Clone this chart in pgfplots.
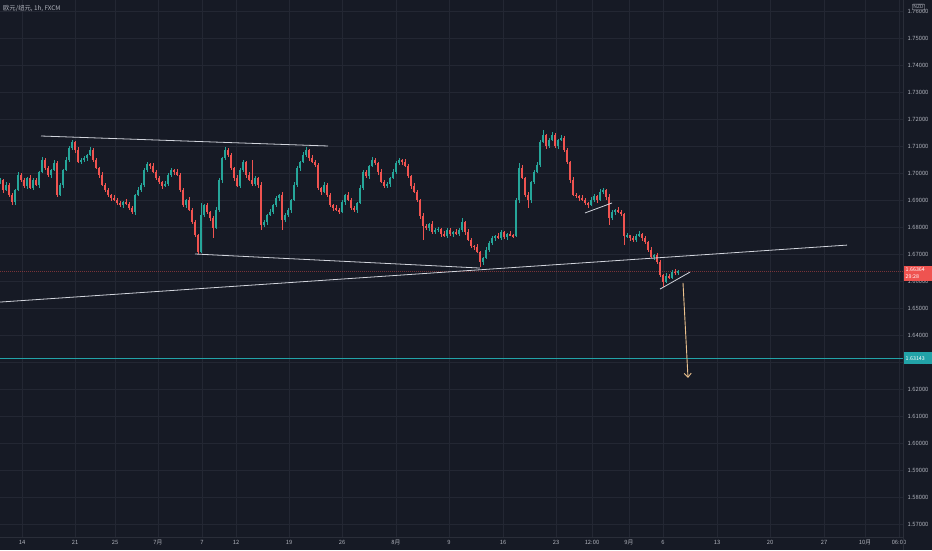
\documentclass[border=0pt]{standalone}
\usepackage{fontspec}
\setmainfont{Noto Sans CJK SC}
\usepackage{pgfplots}
\usepackage{pgfplotstable}
\pgfplotsset{compat=1.18}
\usetikzlibrary{arrows.meta,calc}
\definecolor{bg}{HTML}{161A25}
\definecolor{gridc}{HTML}{232733}
\definecolor{sepc}{HTML}{2A2E39}
\definecolor{upc}{HTML}{26A69A}
\definecolor{dnc}{HTML}{EF5350}
\definecolor{txt}{HTML}{B2B5BE}
\definecolor{tealline}{HTML}{22A3A8}
\definecolor{drw}{HTML}{D1D4DC}
\definecolor{arr}{HTML}{ECC28E}
\pgfplotstableread{
x o h l c
0 1.6965 1.6982 1.6959 1.6974
3 1.6974 1.6978 1.6927 1.6937
6 1.6937 1.6967 1.6932 1.6956
9 1.6956 1.6962 1.6911 1.6919
12 1.6919 1.6927 1.6882 1.6893
15 1.6893 1.6941 1.6883 1.6937
18 1.6937 1.7004 1.6932 1.6993
21 1.6993 1.6999 1.6966 1.6974
24 1.6974 1.6982 1.6946 1.6952
27 1.6952 1.6986 1.6942 1.6982
30 1.6982 1.6993 1.6939 1.6944
33 1.6944 1.6980 1.6936 1.6974
36 1.6974 1.6982 1.6950 1.6956
39 1.6956 1.7008 1.6946 1.7004
42 1.7004 1.7059 1.6999 1.7048
45 1.7048 1.7054 1.7011 1.7019
48 1.7019 1.7027 1.6987 1.6993
51 1.6993 1.7015 1.6983 1.7011
54 1.7011 1.7048 1.7006 1.7037
57 1.7037 1.7043 1.6911 1.6919
60 1.6919 1.6964 1.6913 1.6956
63 1.6956 1.7015 1.6946 1.7011
66 1.7011 1.7059 1.7006 1.7048
69 1.7048 1.7099 1.7040 1.7093
72 1.7093 1.7123 1.7087 1.7115
75 1.7115 1.7119 1.7075 1.7085
78 1.7085 1.7096 1.7036 1.7041
81 1.7041 1.7054 1.7033 1.7048
84 1.7048 1.7064 1.7042 1.7056
87 1.7056 1.7071 1.7046 1.7067
90 1.7067 1.7096 1.7062 1.7085
93 1.7085 1.7091 1.7040 1.7048
96 1.7048 1.7056 1.7013 1.7019
99 1.7019 1.7023 1.6983 1.6993
102 1.6993 1.7004 1.6951 1.6956
105 1.6956 1.6962 1.6929 1.6937
108 1.6937 1.6945 1.6913 1.6919
111 1.6919 1.6923 1.6897 1.6907
114 1.6907 1.6918 1.6895 1.6900
117 1.6900 1.6906 1.6881 1.6889
120 1.6889 1.6897 1.6875 1.6881
123 1.6881 1.6897 1.6871 1.6893
126 1.6893 1.6904 1.6880 1.6885
129 1.6885 1.6891 1.6862 1.6870
132 1.6870 1.6878 1.6848 1.6856
135 1.6856 1.6923 1.6846 1.6919
138 1.6919 1.6948 1.6914 1.6937
141 1.6937 1.6962 1.6929 1.6956
144 1.6956 1.7019 1.6950 1.7011
147 1.7011 1.7041 1.7005 1.7033
150 1.7033 1.7037 1.7016 1.7026
153 1.7026 1.7037 1.6999 1.7004
156 1.7004 1.7010 1.6974 1.6982
159 1.6982 1.6990 1.6961 1.6967
162 1.6967 1.6971 1.6942 1.6952
165 1.6952 1.6970 1.6947 1.6959
168 1.6959 1.6999 1.6951 1.6993
171 1.6993 1.7019 1.6987 1.7011
174 1.7011 1.7015 1.6994 1.7004
177 1.7004 1.7015 1.6988 1.6993
180 1.6993 1.6999 1.6929 1.6937
183 1.6937 1.6945 1.6875 1.6881
186 1.6881 1.6904 1.6871 1.6900
189 1.6900 1.6911 1.6858 1.6863
192 1.6863 1.6869 1.6811 1.6819
195 1.6819 1.6827 1.6764 1.6770
198 1.6770 1.6774 1.6700 1.6707
201 1.6707 1.6889 1.6702 1.6844
204 1.6844 1.6887 1.6836 1.6881
207 1.6881 1.6889 1.6850 1.6856
210 1.6856 1.6860 1.6823 1.6833
213 1.6833 1.6841 1.6759 1.6796
216 1.6796 1.6874 1.6791 1.6863
219 1.6863 1.6980 1.6855 1.6974
222 1.6974 1.7060 1.6964 1.7056
225 1.7056 1.7096 1.7050 1.7085
228 1.7085 1.7093 1.7059 1.7067
231 1.7067 1.7075 1.7013 1.7019
234 1.7019 1.7023 1.6972 1.6982
237 1.6982 1.6993 1.6947 1.6952
240 1.6952 1.7017 1.6944 1.7011
243 1.7011 1.7049 1.7005 1.7041
246 1.7041 1.7045 1.6983 1.6993
249 1.6993 1.7004 1.6969 1.6974
252 1.6974 1.7048 1.6951 1.6959
255 1.6959 1.6990 1.6953 1.6982
258 1.6982 1.6986 1.6946 1.6956
261 1.6956 1.6967 1.6789 1.6807
264 1.6807 1.6827 1.6801 1.6819
267 1.6819 1.6848 1.6809 1.6844
270 1.6844 1.6867 1.6839 1.6856
273 1.6856 1.6887 1.6848 1.6881
276 1.6881 1.6915 1.6875 1.6907
279 1.6907 1.6923 1.6897 1.6919
282 1.6919 1.6930 1.6789 1.6826
285 1.6826 1.6850 1.6818 1.6844
288 1.6844 1.6871 1.6838 1.6863
291 1.6863 1.6904 1.6853 1.6900
294 1.6900 1.6967 1.6895 1.6956
297 1.6956 1.7027 1.6950 1.7019
300 1.7019 1.7045 1.7009 1.7041
303 1.7041 1.7078 1.7036 1.7067
306 1.7067 1.7096 1.7059 1.7085
309 1.7085 1.7089 1.7046 1.7056
312 1.7056 1.7067 1.7036 1.7041
315 1.7041 1.7047 1.7022 1.7030
318 1.7030 1.7038 1.6938 1.6944
321 1.6944 1.6948 1.6920 1.6930
324 1.6930 1.6967 1.6925 1.6956
327 1.6956 1.6962 1.6911 1.6919
330 1.6919 1.6927 1.6875 1.6881
333 1.6881 1.6885 1.6860 1.6870
336 1.6870 1.6881 1.6858 1.6863
339 1.6863 1.6869 1.6848 1.6856
342 1.6856 1.6901 1.6850 1.6893
345 1.6893 1.6923 1.6883 1.6919
348 1.6919 1.6930 1.6895 1.6900
351 1.6900 1.6906 1.6862 1.6870
354 1.6870 1.6878 1.6857 1.6863
357 1.6863 1.6893 1.6853 1.6889
360 1.6889 1.6955 1.6884 1.6944
363 1.6944 1.7010 1.6936 1.7004
366 1.7004 1.7012 1.6983 1.6989
369 1.6989 1.7030 1.6979 1.7026
372 1.7026 1.7059 1.7021 1.7048
375 1.7048 1.7054 1.7029 1.7037
378 1.7037 1.7041 1.6994 1.7004
381 1.7004 1.7015 1.6962 1.6967
384 1.6967 1.6973 1.6944 1.6952
387 1.6952 1.6967 1.6946 1.6959
390 1.6959 1.6986 1.6949 1.6982
393 1.6982 1.7015 1.6977 1.7004
396 1.7004 1.7043 1.6996 1.7037
399 1.7037 1.7056 1.7031 1.7048
402 1.7048 1.7052 1.7031 1.7041
405 1.7041 1.7052 1.7021 1.7026
408 1.7026 1.7032 1.6981 1.6989
411 1.6989 1.6993 1.6942 1.6952
414 1.6952 1.6963 1.6925 1.6930
417 1.6930 1.6936 1.6892 1.6900
420 1.6900 1.6904 1.6831 1.6841
423 1.6841 1.6852 1.6752 1.6804
426 1.6804 1.6812 1.6790 1.6796
429 1.6796 1.6815 1.6786 1.6811
432 1.6811 1.6822 1.6776 1.6781
435 1.6781 1.6797 1.6773 1.6789
438 1.6789 1.6801 1.6783 1.6793
441 1.6793 1.6797 1.6764 1.6774
444 1.6774 1.6785 1.6762 1.6767
447 1.6767 1.6795 1.6759 1.6789
450 1.6789 1.6797 1.6768 1.6774
453 1.6774 1.6785 1.6764 1.6781
456 1.6781 1.6792 1.6769 1.6774
459 1.6774 1.6795 1.6766 1.6789
462 1.6789 1.6833 1.6783 1.6819
465 1.6819 1.6823 1.6771 1.6781
468 1.6781 1.6792 1.6747 1.6752
471 1.6752 1.6758 1.6722 1.6730
474 1.6730 1.6734 1.6716 1.6726
477 1.6726 1.6737 1.6702 1.6707
480 1.6707 1.6713 1.6652 1.6670
483 1.6670 1.6689 1.6660 1.6685
486 1.6685 1.6726 1.6680 1.6715
489 1.6715 1.6747 1.6707 1.6741
492 1.6741 1.6767 1.6735 1.6759
495 1.6759 1.6771 1.6749 1.6767
498 1.6767 1.6778 1.6754 1.6759
501 1.6759 1.6789 1.6753 1.6781
504 1.6781 1.6787 1.6755 1.6763
507 1.6763 1.6778 1.6753 1.6774
510 1.6774 1.6785 1.6765 1.6770
513 1.6770 1.6776 1.6759 1.6767
516 1.6767 1.6906 1.6762 1.6900
519 1.6900 1.7037 1.6890 1.7019
522 1.7019 1.7030 1.6977 1.6982
525 1.6982 1.6986 1.6911 1.6919
528 1.6919 1.6930 1.6870 1.6900
531 1.6900 1.6971 1.6890 1.6967
534 1.6967 1.7012 1.6961 1.7004
537 1.7004 1.7041 1.6999 1.7030
540 1.7030 1.7121 1.7022 1.7115
543 1.7115 1.7159 1.7110 1.7141
546 1.7141 1.7145 1.7090 1.7100
549 1.7100 1.7130 1.7094 1.7122
552 1.7122 1.7152 1.7117 1.7141
555 1.7141 1.7147 1.7092 1.7100
558 1.7100 1.7126 1.7090 1.7122
561 1.7122 1.7141 1.7117 1.7130
564 1.7130 1.7136 1.7077 1.7085
567 1.7085 1.7093 1.7035 1.7041
570 1.7041 1.7045 1.6964 1.6974
573 1.6974 1.6985 1.6914 1.6919
576 1.6919 1.6925 1.6907 1.6915
579 1.6915 1.6919 1.6897 1.6907
582 1.6907 1.6918 1.6895 1.6900
585 1.6900 1.6906 1.6881 1.6889
588 1.6889 1.6893 1.6871 1.6881
591 1.6881 1.6911 1.6876 1.6900
594 1.6900 1.6921 1.6892 1.6915
597 1.6915 1.6919 1.6890 1.6900
600 1.6900 1.6941 1.6895 1.6930
603 1.6930 1.6944 1.6922 1.6937
606 1.6937 1.6941 1.6901 1.6911
609 1.6911 1.6922 1.6807 1.6833
612 1.6833 1.6862 1.6825 1.6856
615 1.6856 1.6867 1.6846 1.6863
618 1.6863 1.6874 1.6851 1.6856
621 1.6856 1.6862 1.6840 1.6848
624 1.6848 1.6852 1.6733 1.6767
627 1.6767 1.6778 1.6761 1.6769
630 1.6769 1.6771 1.6749 1.6759
633 1.6759 1.6767 1.6746 1.6752
636 1.6752 1.6773 1.6744 1.6767
639 1.6767 1.6785 1.6762 1.6774
642 1.6774 1.6778 1.6749 1.6759
645 1.6759 1.6767 1.6738 1.6744
648 1.6744 1.6750 1.6707 1.6715
651 1.6715 1.6726 1.6684 1.6689
654 1.6689 1.6700 1.6679 1.6696
657 1.6696 1.6702 1.6662 1.6670
660 1.6670 1.6678 1.6614 1.6622
663 1.6622 1.6626 1.6578 1.6596
666 1.6596 1.6630 1.6591 1.6619
669 1.6619 1.6627 1.6607 1.6612
672 1.6612 1.6641 1.6608 1.6633
675 1.6633 1.6644 1.6624 1.6630
678 1.6630 1.6640 1.6622 1.6636
}\candles
\begin{document}
\begin{tikzpicture}
\fill[bg] (0pt,0pt) rectangle (932pt,-550pt);
\begin{axis}[
  at={(0pt,0pt)}, anchor=north west,
  scale only axis, width=903pt, height=537pt,
  xmin=0, xmax=903, ymin=1.56518, ymax=1.76407,
  axis line style={draw=none},
  major tick length=0pt,
  grid=major,
  major grid style={line width=0.5pt, draw=gridc},
  xtick={22,75,115,158,202,236,289,342,396,449,503,556,592,629,663,717,770,824,865,899},
  xticklabels={14,21,25,7月,7,12,19,26,8月,9,16,23,12:00,9月,6,13,20,27,10月,06:00},
  ytick={1.57,1.58,1.59,1.60,1.61,1.62,1.63,1.64,1.65,1.66,1.67,1.68,1.69,1.70,1.71,1.72,1.73,1.74,1.75,1.76},
  yticklabel pos=right,
  y tick label style={/pgf/number format/fixed, /pgf/number format/fixed zerofill, /pgf/number format/precision=5, /pgf/number format/assume math mode=true, xshift=1pt},
  tick label style={font=\fontsize{5.8}{6.5}\selectfont, text=txt},
  x tick label style={anchor=north, text height=4.6pt, text depth=0.8pt, yshift=1pt},
]
% current price line
\addplot[dnc, opacity=0.45, line width=0.5pt, dash pattern=on 1pt off 1pt] coordinates {(0,1.66364) (903,1.66364)};
% target line
\addplot[tealline, line width=0.8pt] coordinates {(0,1.63143) (903,1.63143)};
% wicks
\addplot[draw=none, mark=none, restrict expr to domain={\thisrow{c}-\thisrow{o}}{0:1},
  error bars/.cd, y dir=both, y explicit, error mark=none, error bar style={draw=upc, line width=0.5pt}]
  table[x=x, y expr={(\thisrow{h}+\thisrow{l})/2}, y error expr={(\thisrow{h}-\thisrow{l})/2}] {\candles};
\addplot[draw=none, mark=none, restrict expr to domain={\thisrow{o}-\thisrow{c}}{0.00001:1},
  error bars/.cd, y dir=both, y explicit, error mark=none, error bar style={draw=dnc, line width=0.5pt}]
  table[x=x, y expr={(\thisrow{h}+\thisrow{l})/2}, y error expr={(\thisrow{h}-\thisrow{l})/2}] {\candles};
% bodies
\addplot[draw=none, mark=none, restrict expr to domain={\thisrow{c}-\thisrow{o}}{0:1},
  error bars/.cd, y dir=both, y explicit, error mark=none, error bar style={draw=upc, line width=1.5pt}]
  table[x=x, y expr={(\thisrow{o}+\thisrow{c})/2}, y error expr={abs(\thisrow{c}-\thisrow{o})/2+0.00008}] {\candles};
\addplot[draw=none, mark=none, restrict expr to domain={\thisrow{o}-\thisrow{c}}{0.00001:1},
  error bars/.cd, y dir=both, y explicit, error mark=none, error bar style={draw=dnc, line width=1.5pt}]
  table[x=x, y expr={(\thisrow{o}+\thisrow{c})/2}, y error expr={abs(\thisrow{c}-\thisrow{o})/2+0.00008}] {\candles};
% drawings
\addplot[drw, line width=0.8pt] coordinates {(41,1.7137) (328,1.7100)};
\addplot[drw, line width=0.8pt] coordinates {(195,1.6700) (480,1.6648)};
\addplot[drw, line width=0.8pt] coordinates {(0,1.6522) (847,1.6733)};
\addplot[drw, line width=0.8pt] coordinates {(585,1.6852) (612,1.6889)};
\addplot[drw, line width=0.8pt] coordinates {(660,1.6570) (690,1.6633)};
\addplot[arr, line width=0.9pt, -{Straight Barb[length=4pt,width=7pt]}] coordinates {(683,1.6593) (688,1.6241)};
\coordinate (cur) at (axis cs:903,1.66364);
\coordinate (tgt) at (axis cs:903,1.63143);
\end{axis}
% separators
\draw[sepc, line width=0.8pt] (903.5pt,0pt) -- (903.5pt,-550pt);
\draw[sepc, line width=0.8pt] (0pt,-537pt) -- (903.5pt,-537pt);
% title
\node[anchor=west, inner sep=0pt, text=txt, font=\fontsize{6.3}{7}\selectfont] at (3pt,-8pt) {欧元/纽元, 1h, FXCM};
% NZD box
\node[draw=txt, fill=bg, rounded corners=1pt, inner xsep=1.2pt, inner ysep=1pt, text=txt, font=\fontsize{5}{5.5}\selectfont] at (918.5pt,-7pt) {NZD};
% price labels
\fill[dnc] ($(cur)+(0.5pt,5pt)$) rectangle ++(28.5pt,-15pt);
\node[anchor=west, inner sep=0pt, text=white, font=\fontsize{5.3}{6}\selectfont] at ($(cur)+(2.5pt,1.2pt)$) {1.66364};
\node[anchor=west, inner sep=0pt, text=white, font=\fontsize{5.3}{6}\selectfont] at ($(cur)+(2.5pt,-5.8pt)$) {29:28};
\fill[tealline] ($(tgt)+(0.5pt,6pt)$) rectangle ++(28.5pt,-12pt);
\node[anchor=west, inner sep=0pt, text=white, font=\fontsize{5.3}{6}\selectfont] at ($(tgt)+(2.5pt,0pt)$) {1.63143};
\pgfresetboundingbox
\path (0pt,0pt) rectangle (932pt,-550pt);
\end{tikzpicture}
\end{document}
